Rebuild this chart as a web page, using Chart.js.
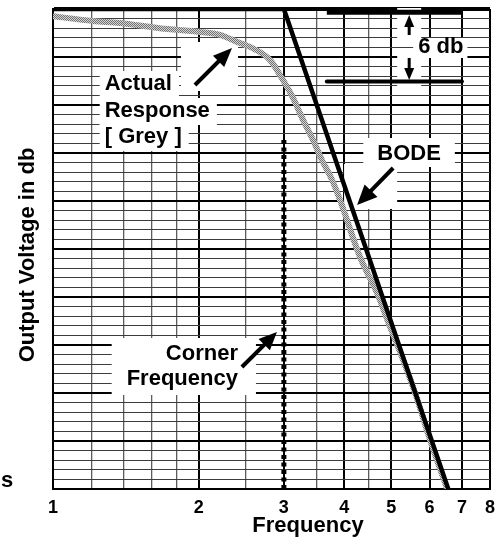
<!DOCTYPE html>
<html>
<head>
<meta charset="utf-8">
<script src="https://cdn.jsdelivr.net/npm/chart.js@4.4.1/dist/chart.umd.min.js"></script>
<style>
  html, body { margin: 0; padding: 0; background: #fff; }
  #wrap { width: 498px; height: 540px; position: relative; }
</style>
</head>
<body>
<div id="wrap"><canvas id="c"></canvas></div>
<script>
const FONT = '"Liberation Sans", Arial, sans-serif';

// Frequency grid lines and the labels shown under them
const freqTicks = [1, 1.2, 1.4, 1.6, 1.8, 2, 2.5, 3, 3.5, 4, 4.5, 5, 6, 7, 8];
const freqLabels = ['1', '', '', '', '', '2', '', '3', '', '4', '', '5', '6', '7', '8'];

// Measured (grey) response, level in grid divisions
const actualFreq  = [1.0, 1.209, 1.374, 1.663, 2.012, 2.213, 2.434, 2.552, 2.808, 2.987, 3.133, 3.286, 3.446, 3.597, 3.773, 3.919, 4.311, 4.675, 4.974, 5.291, 5.603, 6.017, 6.524];
const actualLevel = [9.85, 9.75, 9.71, 9.60, 9.52, 9.46, 9.29, 9.21, 8.94, 8.52, 8.15, 7.69, 7.27, 6.85, 6.44, 6.02, 4.83, 4.08, 3.375, 2.69, 2.0, 1.02, 0];

// Straight-line Bode approximation
const bodeFreq  = [1, 3, 6.56];
const bodeLevel = [10, 10, 0];

// Corner frequency marker
const cornerFreq  = [3, 3];
const cornerLevel = [0, 7.27];

// 6 db reference bars
const refFreq  = [3.68, 7];
const refUpper = [9.93, 9.93];
const refLower = [8.49, 8.49];

const pts = (xs, ys) => xs.map((x, i) => ({ x, y: ys[i] }));

// checkered grey stroke for the measured curve
const pc = document.createElement('canvas');
pc.width = 2; pc.height = 2;
const pctx = pc.getContext('2d');
pctx.fillStyle = '#d4d4d4'; pctx.fillRect(0, 0, 2, 2);
pctx.fillStyle = '#727272'; pctx.fillRect(0, 0, 1, 1); pctx.fillRect(1, 1, 1, 1);
const greyPattern = pctx.createPattern(pc, 'repeat');

// Labels and arrows, positioned in frequency / level units
const textBlocks = [
  { lines: ['Actual', 'Response', '[ Grey ]'], align: 'left', f: 1.279, levels: [8.3125, 7.75, 7.2083], perLine: true, pad: [5, 7, 19, 8] },
  { lines: ['BODE'], align: 'left', f: 4.679, levels: [6.854], pad: [14, 14, 22, 7] },
  { lines: ['Corner', 'Frequency'], align: 'right', f: 2.411, levels: [2.6875, 2.1667], pad: [15, 18, 22, 10] },
  { lines: ['6 db'], align: 'left', f: 5.684, levels: [9.083], pad: [5, 4, 15, 5] }
];
const arrows = [
  { from: [1.965, 8.417], to: [2.344, 9.1875], w: 4, head: 19, half: 8, pad: 6 },
  { from: [5.046, 6.6875], to: [4.250, 5.917], w: 4, head: 20, half: 9, pad: 4 },
  { from: [2.457, 2.542], to: [2.903, 3.271], w: 4, head: 18, half: 8, pad: 0 },
  { from: [5.446, 9.458], to: [5.446, 9.875], w: 3, head: 12, half: 5, pad: 7 },
  { from: [5.446, 8.98], to: [5.446, 8.52], w: 3, head: 12, half: 5, pad: 7 }
];

function blockGeometry(chart, b) {
  const ctx = chart.ctx;
  const xs = chart.scales.x, ys = chart.scales.y;
  const ax = xs.getPixelForValue(b.f);
  return b.lines.map((t, i) => {
    const w = ctx.measureText(t).width;
    const left = b.align === 'left' ? ax : ax - w;
    return { t, left, right: left + w, base: ys.getPixelForValue(b.levels[i]) };
  });
}

const annotate = {
  id: 'annotate',
  beforeDatasetsDraw(chart) {
    const ctx = chart.ctx;
    const xs = chart.scales.x, ys = chart.scales.y;
    ctx.save();
    ctx.font = 'bold 22px ' + FONT;
    ctx.fillStyle = '#fff';
    textBlocks.forEach(b => {
      const g = blockGeometry(chart, b);
      const [pl, pr, pt, pb] = b.pad;
      if (b.perLine) {
        g.forEach(r => ctx.fillRect(r.left - pl, r.base - pt, r.right - r.left + pl + pr, pt + pb));
      } else {
        const l = Math.min(...g.map(r => r.left)) - pl;
        const r = Math.max(...g.map(r => r.right)) + pr;
        const t = g[0].base - pt;
        const bt = g[g.length - 1].base + pb;
        ctx.fillRect(l, t, r - l, bt - t);
      }
    });
    arrows.forEach(a => {
      if (!a.pad) return;
      const x1 = xs.getPixelForValue(a.from[0]), y1 = ys.getPixelForValue(a.from[1]);
      const x2 = xs.getPixelForValue(a.to[0]), y2 = ys.getPixelForValue(a.to[1]);
      const l = Math.min(x1, x2) - a.pad - a.half, r = Math.max(x1, x2) + a.pad + (x1 === x2 ? a.half : 0);
      const t = Math.min(y1, y2) - a.pad, bt = Math.max(y1, y2) + a.pad;
      ctx.fillRect(l, t, r - l, bt - t);
    });
    ctx.restore();
  },
  afterDatasetsDraw(chart) {
    const ctx = chart.ctx;
    const xs = chart.scales.x, ys = chart.scales.y;
    const area = chart.chartArea;
    ctx.save();
    ctx.font = 'bold 22px ' + FONT;
    ctx.fillStyle = '#000';
    ctx.textBaseline = 'alphabetic';
    ctx.textAlign = 'left';
    textBlocks.forEach(b => {
      blockGeometry(chart, b).forEach(r => ctx.fillText(r.t, r.left, r.base));
    });
    // arrows
    arrows.forEach(a => {
      const x1 = xs.getPixelForValue(a.from[0]), y1 = ys.getPixelForValue(a.from[1]);
      const x2 = xs.getPixelForValue(a.to[0]), y2 = ys.getPixelForValue(a.to[1]);
      const len = Math.hypot(x2 - x1, y2 - y1);
      const ux = (x2 - x1) / len, uy = (y2 - y1) / len;
      const bx = x2 - ux * a.head, by = y2 - uy * a.head;
      ctx.strokeStyle = '#000';
      ctx.lineWidth = a.w;
      ctx.lineCap = 'butt';
      ctx.beginPath();
      ctx.moveTo(x1, y1);
      ctx.lineTo(bx + ux * 2, by + uy * 2);
      ctx.stroke();
      ctx.beginPath();
      ctx.moveTo(x2, y2);
      ctx.lineTo(bx - uy * a.half, by + ux * a.half);
      ctx.lineTo(bx + uy * a.half, by - ux * a.half);
      ctx.closePath();
      ctx.fill();
    });
    // axis titles
    ctx.textAlign = 'center';
    ctx.fillText('Frequency', 308, 532);
    ctx.save();
    ctx.translate(area.left - 19.5, (area.top + area.bottom) / 2 + 6);
    ctx.rotate(-Math.PI / 2);
    ctx.fillText('Output Voltage in db', 0, 0);
    ctx.restore();
    ctx.textAlign = 'left';
    ctx.fillText('s', 1, 487);
    ctx.restore();
  }
};

const isMajor = v => Math.abs(v - Math.round(v)) < 1e-6;

new Chart(document.getElementById('c'), {
  type: 'line',
  data: {
    datasets: [
      { order: 0, data: pts(bodeFreq, bodeLevel), borderColor: '#000', borderWidth: 4.5, borderJoinStyle: 'miter', pointRadius: 0 },
      { order: 1, data: pts(refFreq, refUpper), borderColor: '#000', borderWidth: 5, borderCapStyle: 'butt', pointRadius: 0 },
      { order: 1, data: pts(refFreq, refLower), borderColor: '#000', borderWidth: 4, borderCapStyle: 'round', pointRadius: 0 },
      { order: 1, data: pts(cornerFreq, cornerLevel), borderColor: '#000', borderWidth: 1.5, pointRadius: 0 },
      { order: 1, data: pts(cornerFreq, cornerLevel), borderColor: '#000', borderWidth: 5, borderDash: [4, 3.5], borderCapStyle: 'butt', pointRadius: 0 },
      { order: 2, data: pts(actualFreq, actualLevel), borderColor: greyPattern, borderWidth: 6, cubicInterpolationMode: 'monotone', pointRadius: 0 }
    ]
  },
  options: {
    responsive: true,
    maintainAspectRatio: false,
    animation: false,
    events: [],
    layout: { padding: { top: 9, right: 8, left: 0, bottom: 0 } },
    plugins: { legend: { display: false }, tooltip: { enabled: false }, title: { display: false } },
    scales: {
      x: {
        type: 'logarithmic',
        min: 1,
        max: 8,
        afterBuildTicks: s => { s.ticks = freqTicks.map(v => ({ value: v })); },
        afterFit: s => { s.height = 51; s.paddingLeft = 0; s.paddingRight = 0; },
        ticks: {
          autoSkip: false,
          maxRotation: 0,
          padding: 8,
          color: '#000',
          font: { family: FONT, weight: 'bold', size: 18 },
          callback: (v, i) => freqLabels[freqTicks.indexOf(v)] ?? ''
        },
        grid: {
          drawTicks: false,
          color: c => isMajor(c.tick.value) ? '#000' : '#5c5c5c',
          lineWidth: c => isMajor(c.tick.value) ? 2 : 1.3
        },
        border: { display: true, color: '#000', width: 2 }
      },
      y: {
        type: 'linear',
        min: 0,
        max: 10,
        afterFit: s => { s.width = 53; },
        ticks: { display: false, stepSize: 0.2 },
        grid: {
          drawTicks: false,
          color: c => isMajor(c.tick.value) ? '#000' : '#3c3c3c',
          lineWidth: c => Math.abs(c.tick.value - 10) < 1e-6 ? 4 : (isMajor(c.tick.value) ? 2 : 1)
        },
        border: { display: true, color: '#000', width: 2 }
      }
    }
  },
  plugins: [annotate]
});
</script>
</body>
</html>
